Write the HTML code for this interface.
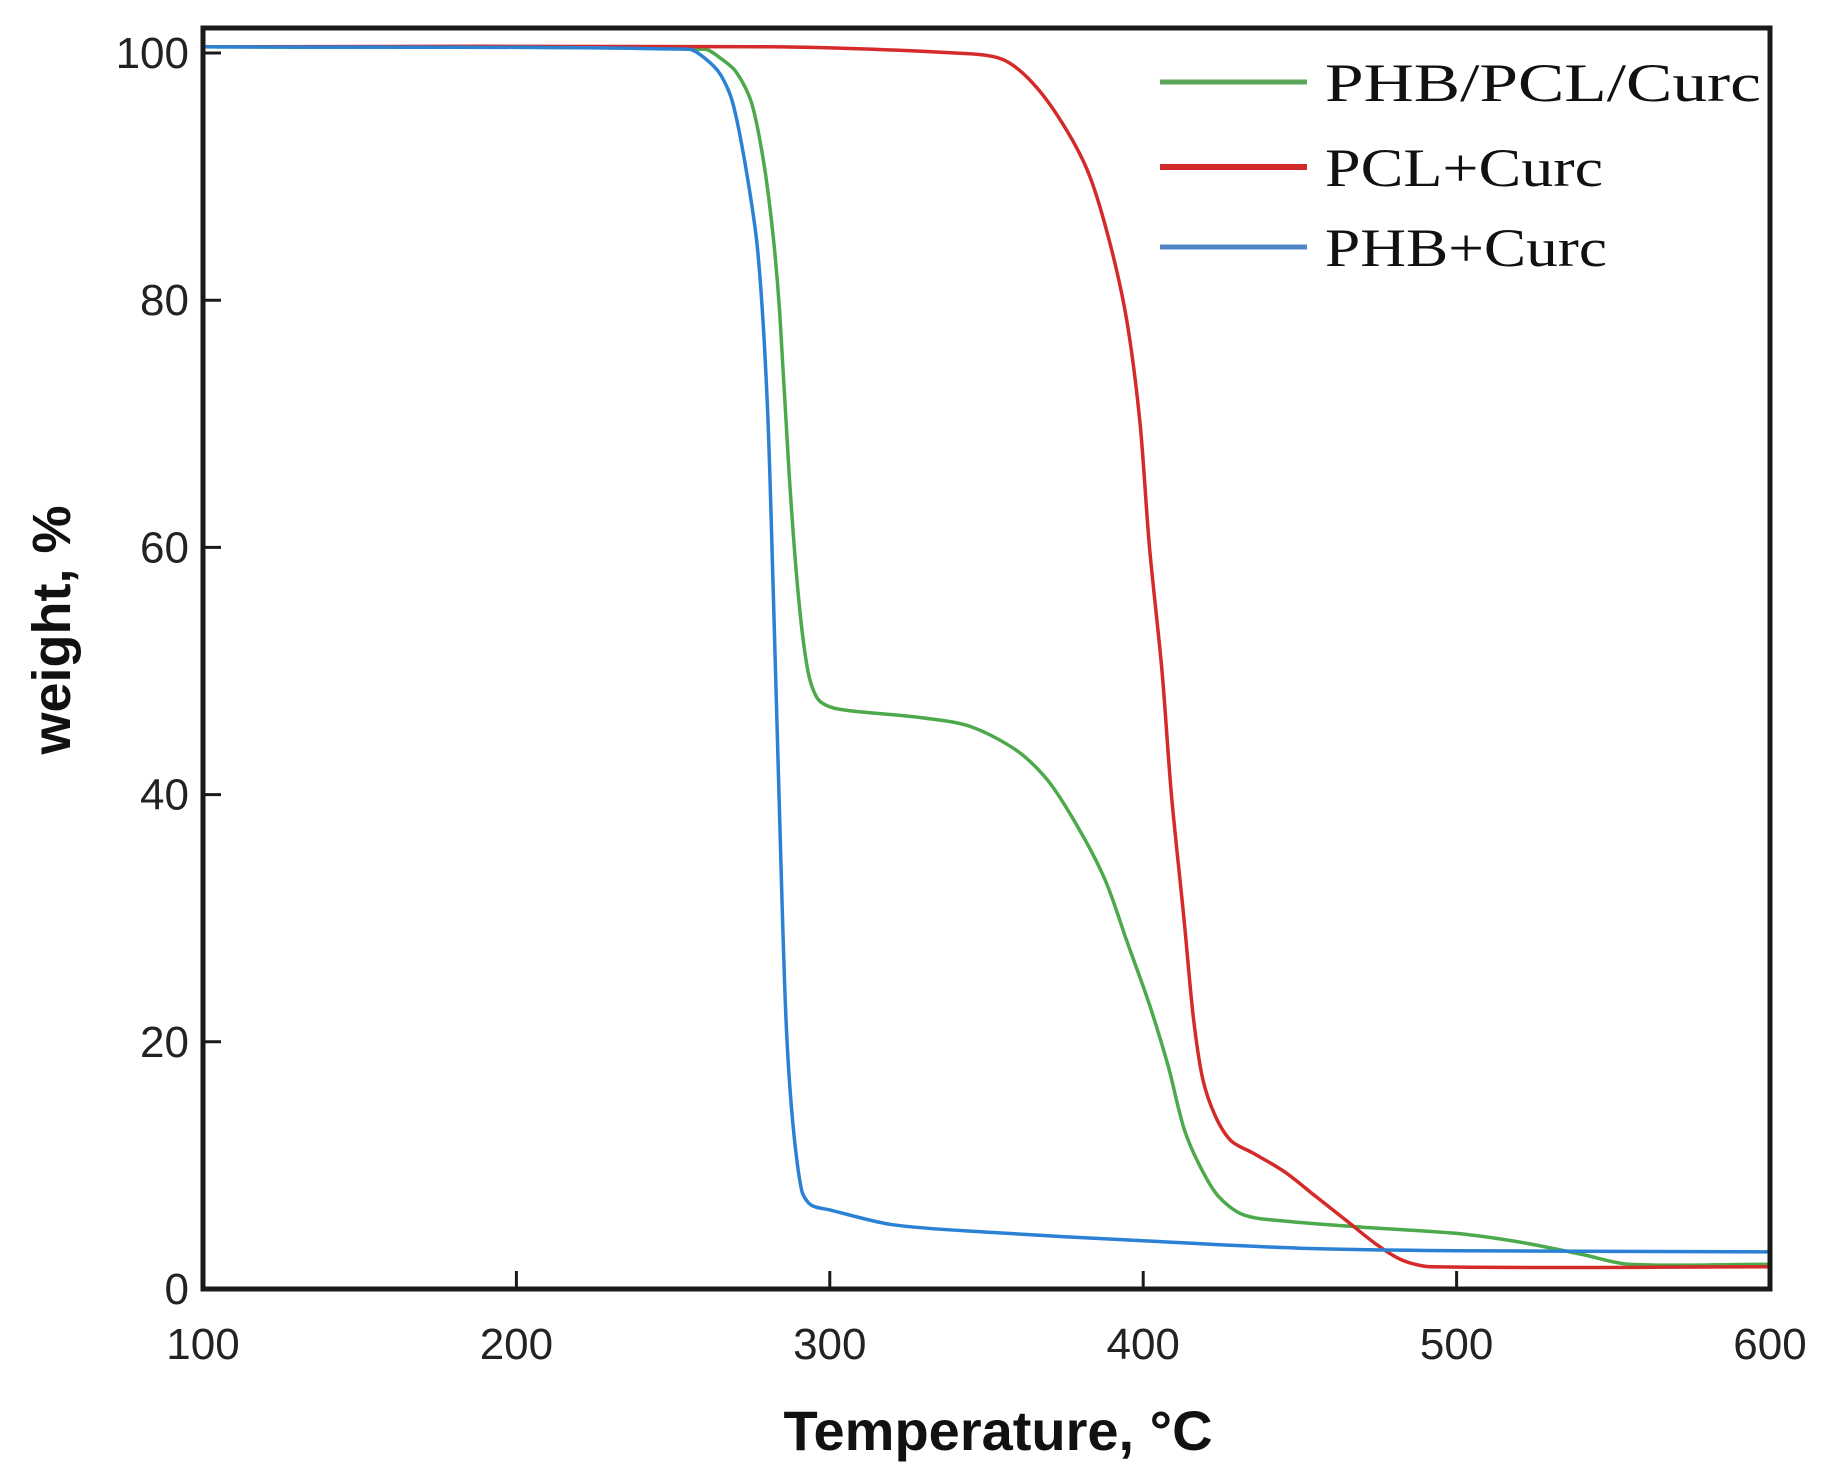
<!DOCTYPE html>
<html><head><meta charset="utf-8"><style>
html,body{margin:0;padding:0;background:#fff}
svg{display:block}
</style></head><body>
<svg id="chart" width="1838" height="1476" viewBox="0 0 1838 1476" xmlns="http://www.w3.org/2000/svg">
<g id="plot"></g>
<g id="axes"></g>
<text x="998" y="1450" font-family="Liberation Sans, sans-serif" font-weight="bold" font-size="56" text-anchor="middle" fill="#111">Temperature, °C</text>
<text transform="translate(70,630) rotate(-90)" font-family="Liberation Sans, sans-serif" font-weight="bold" font-size="54" text-anchor="middle" fill="#111">weight, %</text>
<g id="legend">
<line x1="1160" y1="82" x2="1307" y2="82" stroke="#5ba85b" stroke-width="5"/>
<text x="1325" y="101" font-family="Liberation Serif, serif" font-size="54" textLength="436" lengthAdjust="spacingAndGlyphs" fill="#111">PHB/PCL/Curc</text>
<line x1="1160" y1="167" x2="1307" y2="167" stroke="#d02a2a" stroke-width="6"/>
<text x="1325" y="186" font-family="Liberation Serif, serif" font-size="54" textLength="278" lengthAdjust="spacingAndGlyphs" fill="#111">PCL+Curc</text>
<line x1="1160" y1="247" x2="1307" y2="247" stroke="#4f86c6" stroke-width="5"/>
<text x="1325" y="266" font-family="Liberation Serif, serif" font-size="54" textLength="282" lengthAdjust="spacingAndGlyphs" fill="#111">PHB+Curc</text>
</g>
</svg>
<script>
const xTicks=[100,200,300,400,500,600];
const yTicks=[0,20,40,60,80,100];
const blueT=[100,255,260,265,269,273,277,280,282,284,286,288,291,294,300,320,350,400,450,500,600];
const blueW=[100.5,100.3,99.6,98.3,96,91,84,72,56,38,22,14,8,6.8,6.4,5.2,4.6,3.9,3.3,3.1,3.0];
const greenT=[100,260,265,270,275,279,282,284,287,290,293,296,300,306,330,345,360,370,380,388,395,402,408,413,418,424,432,445,470,500,520,540,555,600];
const greenW=[100.5,100.3,99.6,98.5,96,91,85,79,66,56,50,47.8,47.1,46.8,46.2,45.5,43.5,41,37,33,28,23,18,13,10,7.5,6,5.5,5,4.5,3.8,2.8,2,2];
const redT=[100,280,340,355,365,375,383,390,395,399,402,406,409,413,416,419,423,428,435,445,455,465,475,483,492,600];
const redW=[100.5,100.5,100,99.5,97.5,94,90,84,78,70,60,50,40,30,22,17,14,12,11,9.5,7.5,5.5,3.5,2.3,1.8,1.8];
const L=203,R=1770,T=28,B=1289,Y0=1289,Y100=53;
function sx(v){return L+(v-100)/500*(R-L);}
function sy(v){return Y0-(v/100)*(Y0-Y100);}
const NS='http://www.w3.org/2000/svg';
const plot=document.getElementById('plot'),axes=document.getElementById('axes');
function mk(tag,at,parent){const e=document.createElementNS(NS,tag);for(const k in at)e.setAttribute(k,at[k]);parent.appendChild(e);return e;}
function series(ts,ws,color,name,w){
  const P=ts.map((t,i)=>[sx(t),sy(ws[i])]);
  const n=P.length;
  const M=P.map((p,i)=>{
    const a=P[Math.max(0,i-1)],b=P[Math.min(n-1,i+1)];
    const dx=b[0]-a[0],dy=b[1]-a[1],l=Math.hypot(dx,dy)||1;
    return [dx/l,dy/l];
  });
  let d='M'+P[0][0].toFixed(1)+','+P[0][1].toFixed(1);
  for(let i=0;i<n-1;i++){
    const p1=P[i],p2=P[i+1];
    const s=Math.hypot(p2[0]-p1[0],p2[1]-p1[1])*0.3;
    const c1=[p1[0]+M[i][0]*s,p1[1]+M[i][1]*s];
    const c2=[p2[0]-M[i+1][0]*s,p2[1]-M[i+1][1]*s];
    d+=' C'+c1[0].toFixed(1)+','+c1[1].toFixed(1)+' '+c2[0].toFixed(1)+','+c2[1].toFixed(1)+' '+p2[0].toFixed(1)+','+p2[1].toFixed(1);
  }
  const p=mk('path',{d:d,fill:'none',stroke:color,'stroke-width':w,'stroke-linejoin':'round'},plot);
  
  
}
series(greenT,greenW,'#4caa4c','line-phb-pcl-curc',3.5);
series(redT,redW,'#d42a2a','line-pcl-curc',3.5);
series(blueT,blueW,'#2b82d4','line-phb-curc',3.5);
const frame=mk('rect',{x:L,y:T,width:R-L,height:B-T,fill:'none',stroke:'#1a1a1a','stroke-width':5},axes);


xTicks.forEach(v=>{
  const tk=mk('line',{x1:sx(v),x2:sx(v),y1:B,y2:B-18,stroke:'#1a1a1a','stroke-width':3},axes);
  
  
  const tx=mk('text',{x:sx(v),y:B+70,'font-family':'Liberation Sans, sans-serif','font-size':44,'text-anchor':'middle',fill:'#222'},axes);
  tx.textContent=v;
  
  
});
yTicks.forEach(v=>{
  const tk=mk('line',{x1:L,x2:L+18,y1:sy(v),y2:sy(v),stroke:'#1a1a1a','stroke-width':3},axes);
  
  
  const tx=mk('text',{x:L-14,y:sy(v)+15,'font-family':'Liberation Sans, sans-serif','font-size':44,'text-anchor':'end',fill:'#222'},axes);
  tx.textContent=v;
  
  
});
</script>
</body></html>
